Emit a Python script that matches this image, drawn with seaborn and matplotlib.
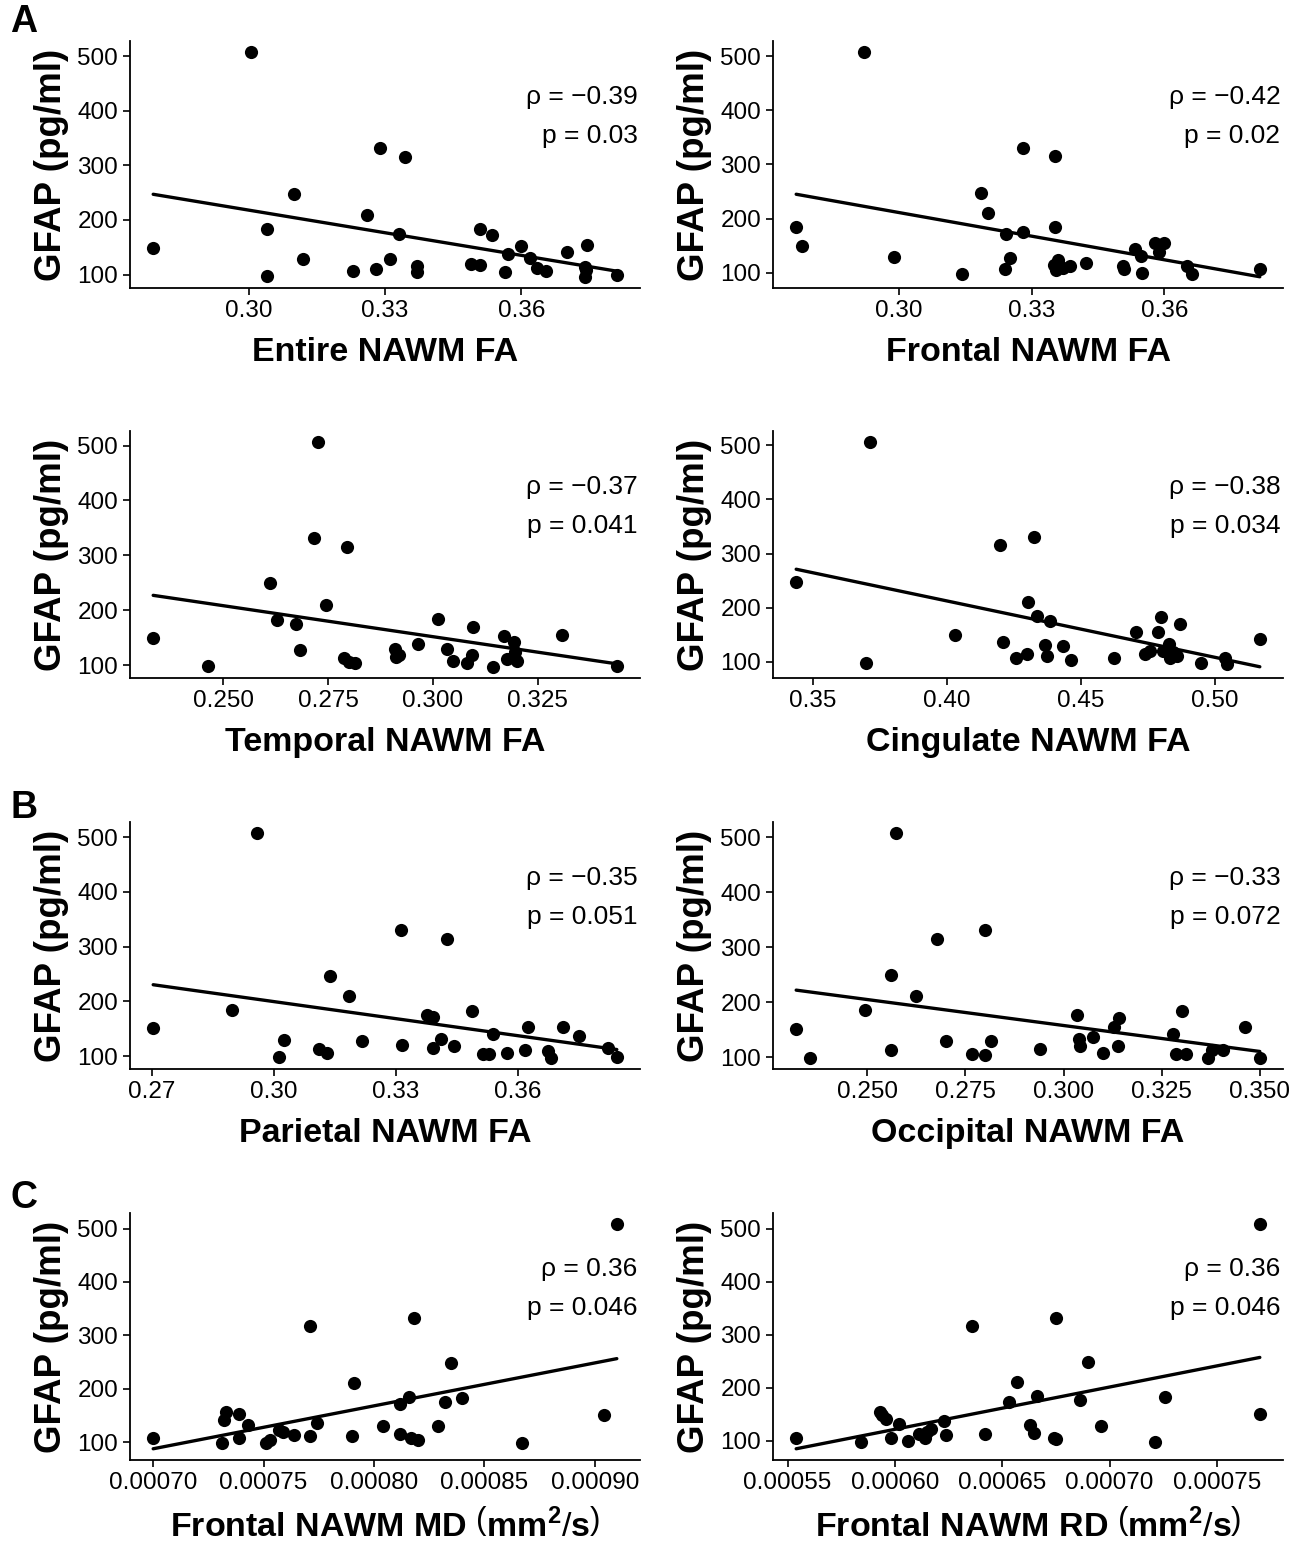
import matplotlib
matplotlib.use("Agg")
import matplotlib.pyplot as plt
from matplotlib.ticker import FixedLocator, FormatStrFormatter
import seaborn as sns

# ---- data ----
entire_fa = [0.279, 0.3005, 0.304, 0.304, 0.310, 0.312, 0.323, 0.326, 0.328, 0.329,
             0.331, 0.333, 0.3345, 0.337, 0.337, 0.349, 0.351, 0.351, 0.3535, 0.3565,
             0.357, 0.360, 0.362, 0.3635, 0.3655, 0.370, 0.374, 0.3742, 0.374, 0.3745, 0.381]
entire_gfap = [149, 507, 183, 98, 248, 129, 106, 209, 111, 332,
               128, 175, 315, 116, 104, 120, 118, 183, 172, 105,
               137, 152, 131, 112, 106, 141, 114, 108, 96, 154, 99]

frontal_fa = [0.2768, 0.2781, 0.2921, 0.2989, 0.3143, 0.3185, 0.3202, 0.3241, 0.3243, 0.3252,
              0.328, 0.3281, 0.3353, 0.3354, 0.335, 0.3355, 0.336, 0.337, 0.3387, 0.3422,
              0.3507, 0.351, 0.3534, 0.3548, 0.355, 0.3578, 0.3588, 0.3599, 0.3652, 0.3663, 0.3816]
frontal_gfap = [184, 150, 507, 129, 98, 248, 211, 106, 171, 128,
                331, 176, 315, 184, 115, 105, 123, 109, 113, 118,
                113, 107, 143, 131, 99, 155, 139, 154, 112, 97, 106]

temporal_fa = [0.2333, 0.2463, 0.2611, 0.2628, 0.2674, 0.2684, 0.2716, 0.2726, 0.2744, 0.2787,
               0.2795, 0.280, 0.2814, 0.291, 0.2912, 0.2918, 0.2965, 0.3013, 0.3034, 0.3047,
               0.308, 0.3092, 0.3095, 0.3142, 0.3169, 0.3176, 0.3194, 0.3196, 0.3201, 0.3308, 0.3438]
temporal_gfap = [150, 98, 249, 183, 175, 128, 332, 506, 210, 113,
                 315, 106, 104, 129, 114, 118, 138, 184, 130, 107,
                 104, 119, 170, 97, 153, 112, 142, 124, 107, 154, 98]

cingulate_fa = [0.3439, 0.370, 0.3715, 0.4032, 0.4198, 0.4209, 0.4259, 0.4298, 0.4305, 0.4326,
                0.4338, 0.4366, 0.4374, 0.4385, 0.4433, 0.4463, 0.4624, 0.4705, 0.4739, 0.476,
                0.4788, 0.480, 0.4806, 0.483, 0.4833, 0.4845, 0.4859, 0.4872, 0.495, 0.504, 0.5045, 0.5168]
cingulate_gfap = [247, 98, 506, 149, 315, 137, 106, 114, 210, 331,
                  184, 130, 111, 175, 128, 103, 107, 154, 114, 119,
                  154, 183, 119, 132, 106, 117, 111, 170, 98, 107, 95, 141]

parietal_fa = [0.2704, 0.2898, 0.2959, 0.3012, 0.3026, 0.3111, 0.3132, 0.3139, 0.3185, 0.3216,
               0.3312, 0.3315, 0.3377, 0.3392, 0.3391, 0.3411, 0.3425, 0.3444, 0.3488, 0.3515,
               0.3529, 0.3539, 0.3573, 0.3617, 0.3625, 0.3673, 0.3681, 0.371, 0.3751, 0.3822, 0.3843]
parietal_gfap = [151, 184, 507, 98, 129, 113, 106, 247, 210, 127,
                 330, 120, 176, 171, 115, 132, 314, 118, 183, 104,
                 104, 141, 106, 112, 153, 109, 97, 154, 136, 115, 99]

occipital_fa = [0.2319, 0.2354, 0.2494, 0.256, 0.2561, 0.2572, 0.2624, 0.2678, 0.2701, 0.2768,
                0.2799, 0.280, 0.2814, 0.2941, 0.3034, 0.304, 0.3042, 0.3075, 0.310, 0.3128,
                0.314, 0.3142, 0.3279, 0.3287, 0.3303, 0.3313, 0.3369, 0.3377, 0.3406, 0.3462, 0.350]
occipital_gfap = [152, 99, 185, 113, 249, 507, 212, 314, 129, 106,
                  104, 331, 129, 115, 176, 133, 120, 137, 107, 155,
                  120, 172, 142, 106, 184, 106, 99, 114, 113, 155, 99]

frontal_md = [0.000700, 0.000731, 0.000732, 0.000733, 0.000739, 0.000739, 0.000743, 0.000751,
              0.000753, 0.000757, 0.000759, 0.000764, 0.000771, 0.000771, 0.000774, 0.000790,
              0.000791, 0.000804, 0.000812, 0.000812, 0.000816, 0.000817, 0.000818, 0.000820,
              0.000829, 0.000832, 0.000835, 0.000840, 0.000867, 0.000904, 0.000910]
md_gfap = [109, 98, 142, 156, 153, 108, 132, 99,
           105, 124, 119, 114, 317, 112, 137, 112,
           211, 130, 172, 115, 184, 108, 332, 104,
           130, 176, 249, 183, 99, 152, 508]

frontal_rd = [0.000554, 0.000584, 0.000593, 0.000594, 0.000596, 0.000598, 0.000602, 0.000606,
              0.000611, 0.000614, 0.000615, 0.000617, 0.000623, 0.000624, 0.000636, 0.000642,
              0.000653, 0.000657, 0.000663, 0.000665, 0.000666, 0.000674, 0.000675, 0.000675,
              0.000686, 0.000690, 0.000696, 0.000721, 0.000726, 0.000770, 0.000770]
rd_gfap = [106, 97, 154, 149, 141, 106, 132, 99,
           113, 105, 116, 123, 137, 111, 316, 113,
           173, 210, 129, 114, 184, 106, 332, 103,
           176, 248, 128, 98, 183, 151, 509]

xlabels = ["Entire NAWM FA", "Frontal NAWM FA", "Temporal NAWM FA", "Cingulate NAWM FA",
           "Parietal NAWM FA", "Occipital NAWM FA",
           r"Frontal NAWM MD $\left(\mathbf{mm}^{\mathbf{2}}/\mathbf{s}\right)$",
           r"Frontal NAWM RD $\left(\mathbf{mm}^{\mathbf{2}}/\mathbf{s}\right)$"]
rho_labels = ["\u22120.39", "\u22120.42", "\u22120.37", "\u22120.38",
              "\u22120.35", "\u22120.33", "0.36", "0.36"]
p_labels = ["0.03", "0.02", "0.041", "0.034", "0.051", "0.072", "0.046", "0.046"]
xticks = [[0.30, 0.33, 0.36], [0.30, 0.33, 0.36],
          [0.250, 0.275, 0.300, 0.325], [0.35, 0.40, 0.45, 0.50],
          [0.27, 0.30, 0.33, 0.36], [0.250, 0.275, 0.300, 0.325, 0.350],
          [0.00070, 0.00075, 0.00080, 0.00085, 0.00090],
          [0.00055, 0.00060, 0.00065, 0.00070, 0.00075]]
xtick_fmt = ["%.2f", "%.2f", "%.3f", "%.2f", "%.2f", "%.3f", "%.5f", "%.5f"]
yticks = [100, 200, 300, 400, 500]
panel_letters = {0: "A", 4: "B", 6: "C"}

xs = [entire_fa, frontal_fa, temporal_fa, cingulate_fa,
      parietal_fa, occipital_fa, frontal_md, frontal_rd]
ys = [entire_gfap, frontal_gfap, temporal_gfap, cingulate_gfap,
      parietal_gfap, occipital_gfap, md_gfap, rd_gfap]

# ---- style ----
sns.set_theme(style="ticks")
plt.rcParams['font.family'] = ['Liberation Sans', 'DejaVu Sans']
plt.rcParams['text.color'] = 'black'
plt.rcParams['axes.labelcolor'] = 'black'
plt.rcParams['mathtext.fontset'] = 'custom'
plt.rcParams['mathtext.rm'] = 'Liberation Sans'
plt.rcParams['mathtext.bf'] = 'Liberation Sans:bold'
plt.rcParams['mathtext.it'] = 'Liberation Sans:italic'

W, H = 1308, 1553
fig = plt.figure(figsize=(W / 100, H / 100), dpi=100)

lefts = [130 / W, 773 / W]
bottoms = [1 - 288 / H, 1 - 678 / H, 1 - 1069 / H, 1 - 1460 / H]
ax_w, ax_h = 510 / W, 247 / H

for i in range(8):
    ax = fig.add_axes([lefts[i % 2], bottoms[i // 2], ax_w, ax_h])
    sns.regplot(x=xs[i], y=ys[i], ax=ax, ci=None, color="black",
                scatter_kws={"s": 90, "linewidths": 0, "alpha": 1},
                line_kws={"color": "black", "lw": 2.4})

    sns.despine(ax=ax)
    for sp in ["left", "bottom"]:
        ax.spines[sp].set_linewidth(1.3)
        ax.spines[sp].set_color("black")
    ax.xaxis.set_major_locator(FixedLocator(xticks[i]))
    ax.xaxis.set_major_formatter(FormatStrFormatter(xtick_fmt[i]))
    ax.yaxis.set_major_locator(FixedLocator(yticks))
    ax.tick_params(axis="both", labelsize=17.5, length=5, width=1.2,
                   colors="black", direction="out")

    ax.set_xlabel(xlabels[i], fontsize=24.5, fontweight="bold", labelpad=11)
    ax.set_ylabel("GFAP (pg/ml)", fontsize=26.5, fontweight="bold", labelpad=6)

    ax.text(0.995, 0.773, f"\u03c1 = {rho_labels[i]}", transform=ax.transAxes,
            ha="right", va="center", fontsize=19)
    ax.text(0.995, 0.615, f"p = {p_labels[i]}", transform=ax.transAxes,
            ha="right", va="center", fontsize=19)

    if i in panel_letters:
        top_px = {0: 22, 4: 808, 6: 1198}[i]
        fig.text(24 / W, 1 - top_px / H, panel_letters[i], fontsize=27,
                 fontweight="bold", ha="center", va="center")

fig.savefig("out.png", dpi=100)
